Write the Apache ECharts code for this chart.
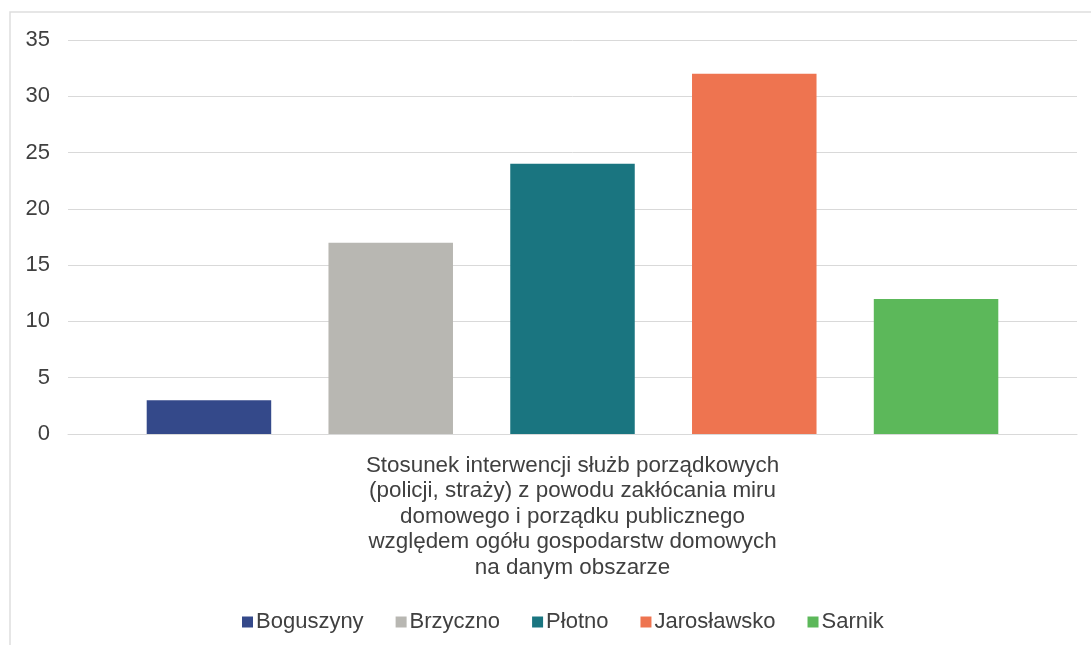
<!DOCTYPE html>
<html><head><meta charset="utf-8">
<script src="https://cdn.jsdelivr.net/npm/echarts@6/dist/echarts.min.js"></script>
<style>html,body{margin:0;padding:0;background:#fff}#c{width:1091px;height:645px}</style>
</head><body><div id="c"></div>
<script>
const categories = ["Stosunek interwencji służb porządkowych\n(policji, straży) z powodu zakłócania miru\ndomowego i porządku publicznego\nwzględem ogółu gospodarstw domowych\nna danym obszarze"];
const seriesNames = ["Boguszyny", "Brzyczno", "Płotno", "Jarosławsko", "Sarnik"];
const seriesValues = [[3], [17], [24], [32], [12]];
const colors = ["#34498a", "#b8b7b2", "#1a7580", "#ee7450", "#5cb85a"];

const chart = echarts.init(document.getElementById('c'), null, {renderer: 'canvas'});
const font = 'Liberation Sans, Arial, sans-serif';
chart.setOption({
  animation: false,
  textStyle: {fontFamily: font},
  graphic: [{type: 'rect', shape: {x: 10, y: 12, width: 1100, height: 700}, style: {fill: 'none', stroke: '#dedede', lineWidth: 1.5}, silent: true}],
  grid: {left: 68, right: 14, top: 40, bottom: 211},
  legend: {
    top: 606, left: 237,
    itemWidth: 11, itemHeight: 11, itemGap: 32,
    icon: 'rect',
    textStyle: {fontSize: 22, color: '#404040', fontFamily: font, padding: [0, 0, 0, -2]},
    data: seriesNames
  },
  xAxis: {
    type: 'category', data: categories,
    axisLine: {lineStyle: {color: '#d9d9d9', width: 1}},
    axisTick: {show: false},
    axisLabel: {fontSize: 22.4, color: '#404040', lineHeight: 25.5, margin: 19, fontFamily: font}
  },
  yAxis: {
    type: 'value', min: 0, max: 35, interval: 5,
    axisLine: {show: false}, axisTick: {show: false},
    splitLine: {lineStyle: {color: '#d9d9d9', width: 1}},
    axisLabel: {fontSize: 22, color: '#404040', margin: 18, fontFamily: font}
  },
  series: seriesNames.map((n, i) => ({
    name: n, type: 'bar', data: seriesValues[i],
    itemStyle: {color: colors[i]},
    barCategoryGap: '15.6%', barGap: '46%'
  }))
});
</script></body></html>
